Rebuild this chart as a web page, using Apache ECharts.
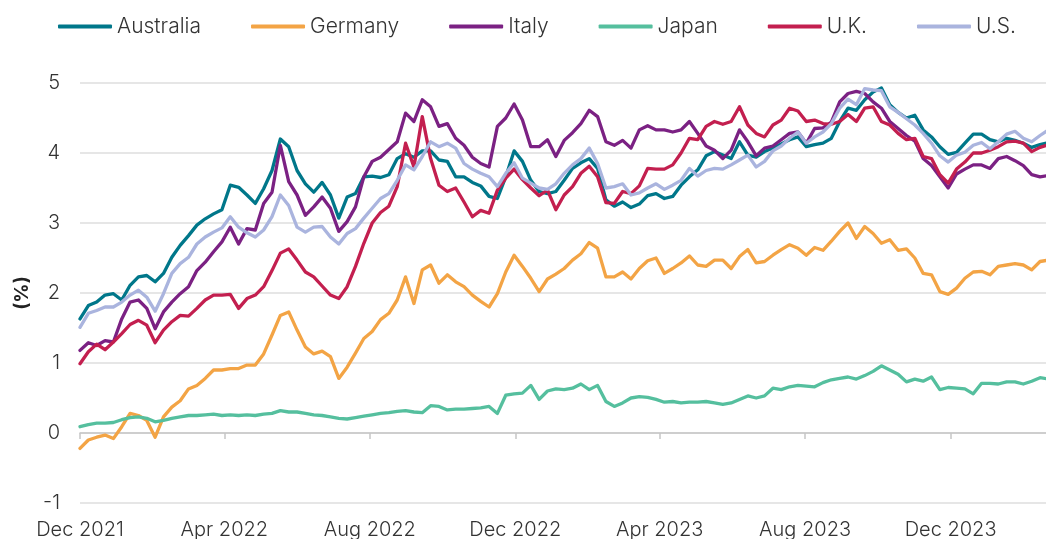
<!DOCTYPE html>
<html>
<head>
<meta charset="utf-8">
<script src="https://cdn.jsdelivr.net/npm/echarts@6/dist/echarts.min.js"></script>
<style>
  html, body { margin: 0; padding: 0; background: #fff; }
  #chart { width: 1046px; height: 539px; }
</style>
</head>
<body>
<div id="chart"></div>
<script>
// weekly readings, first week starting 1 Dec 2021
var startYear = 2021, startMonth = 11, startDay = 1;

var australia = [1.63,1.82,1.87,1.97,1.99,1.90,2.11,2.23,2.25,2.16,
  2.28,2.51,2.68,2.82,2.97,3.06,3.13,3.19,3.54,3.51,
  3.40,3.28,3.49,3.75,4.20,4.09,3.75,3.56,3.44,3.58,
  3.40,3.07,3.37,3.42,3.66,3.67,3.65,3.69,3.92,3.99,
  3.94,4.03,4.03,3.90,3.88,3.66,3.66,3.58,3.53,3.38,
  3.35,3.66,4.03,3.88,3.61,3.45,3.42,3.45,3.61,3.78,
  3.86,3.92,3.78,3.33,3.24,3.30,3.22,3.27,3.39,3.42,
  3.35,3.38,3.54,3.66,3.76,3.96,4.02,3.97,3.92,4.16,
  3.97,3.94,4.02,4.07,4.13,4.19,4.23,4.09,4.12,4.14,
  4.21,4.45,4.64,4.61,4.76,4.87,4.93,4.69,4.58,4.50,
  4.54,4.33,4.23,4.09,3.98,4.01,4.14,4.27,4.27,4.19,
  4.16,4.21,4.18,4.14,4.08,4.12,4.15];

var germany = [-0.22,-0.10,-0.06,-0.03,-0.08,0.09,0.28,0.25,0.18,-0.06,
  0.23,0.37,0.46,0.63,0.68,0.78,0.90,0.90,0.92,0.92,
  0.97,0.97,1.13,1.40,1.68,1.73,1.47,1.23,1.13,1.17,
  1.09,0.78,0.94,1.14,1.35,1.45,1.62,1.71,1.90,2.23,
  1.85,2.33,2.40,2.14,2.26,2.16,2.09,1.97,1.88,1.80,
  1.99,2.30,2.54,2.38,2.21,2.02,2.20,2.27,2.35,2.47,
  2.56,2.72,2.64,2.23,2.23,2.30,2.20,2.35,2.46,2.50,
  2.28,2.35,2.43,2.53,2.40,2.38,2.47,2.47,2.35,2.52,
  2.62,2.43,2.45,2.54,2.62,2.69,2.64,2.54,2.65,2.61,
  2.74,2.88,3.00,2.78,2.95,2.85,2.71,2.76,2.61,2.63,
  2.50,2.28,2.26,2.02,1.98,2.07,2.21,2.30,2.31,2.26,
  2.38,2.40,2.42,2.40,2.33,2.45,2.47];

var italy = [1.18,1.29,1.25,1.32,1.30,1.63,1.87,1.90,1.78,1.49,
  1.73,1.87,1.99,2.09,2.32,2.44,2.59,2.73,2.94,2.70,
  2.92,2.90,3.28,3.44,4.11,3.59,3.40,3.11,3.23,3.37,
  3.21,2.88,3.02,3.23,3.66,3.88,3.94,4.05,4.16,4.57,
  4.45,4.76,4.66,4.38,4.42,4.21,4.11,3.94,3.85,3.80,
  4.38,4.50,4.70,4.47,4.09,4.09,4.19,3.95,4.18,4.29,
  4.42,4.61,4.52,4.16,4.11,4.18,4.07,4.33,4.39,4.33,
  4.33,4.30,4.33,4.45,4.28,4.10,4.04,3.92,4.04,4.33,
  4.16,3.96,4.07,4.10,4.19,4.28,4.30,4.14,4.35,4.36,
  4.44,4.73,4.85,4.88,4.85,4.73,4.64,4.45,4.35,4.25,
  4.17,3.92,3.82,3.66,3.50,3.70,3.77,3.83,3.83,3.78,
  3.92,3.95,3.89,3.82,3.69,3.66,3.68];

var japan = [0.09,0.12,0.14,0.14,0.15,0.19,0.22,0.23,0.21,0.16,
  0.18,0.21,0.23,0.25,0.25,0.26,0.27,0.25,0.26,0.25,
  0.26,0.25,0.27,0.28,0.32,0.30,0.30,0.28,0.26,0.25,
  0.23,0.21,0.20,0.22,0.24,0.26,0.28,0.29,0.31,0.32,
  0.30,0.29,0.39,0.38,0.33,0.34,0.34,0.35,0.36,0.38,
  0.28,0.54,0.56,0.57,0.68,0.48,0.60,0.63,0.62,0.64,
  0.70,0.62,0.68,0.45,0.38,0.43,0.50,0.52,0.51,0.48,
  0.44,0.45,0.43,0.44,0.44,0.45,0.43,0.41,0.43,0.48,
  0.53,0.50,0.53,0.64,0.62,0.66,0.68,0.67,0.66,0.72,
  0.76,0.78,0.80,0.77,0.82,0.88,0.96,0.90,0.84,0.73,
  0.77,0.74,0.80,0.62,0.65,0.64,0.63,0.56,0.71,0.71,
  0.70,0.73,0.73,0.70,0.74,0.79,0.77];

var uk = [0.99,1.16,1.27,1.19,1.30,1.42,1.55,1.61,1.54,1.29,
  1.47,1.59,1.68,1.67,1.78,1.90,1.97,1.97,1.98,1.78,
  1.92,1.97,2.09,2.32,2.57,2.63,2.47,2.30,2.23,2.10,
  1.97,1.92,2.09,2.38,2.71,3.00,3.15,3.24,3.52,4.14,
  3.80,4.52,3.92,3.54,3.45,3.50,3.30,3.09,3.18,3.14,
  3.47,3.64,3.77,3.62,3.50,3.39,3.47,3.19,3.40,3.52,
  3.71,3.81,3.66,3.29,3.28,3.45,3.42,3.53,3.78,3.77,
  3.77,3.83,4.00,4.21,4.19,4.38,4.45,4.41,4.45,4.66,
  4.40,4.28,4.23,4.40,4.47,4.64,4.60,4.45,4.47,4.42,
  4.41,4.45,4.55,4.45,4.64,4.66,4.45,4.40,4.28,4.19,
  4.21,3.95,3.92,3.69,3.57,3.77,3.87,4.00,4.00,4.04,
  4.09,4.16,4.17,4.14,4.02,4.08,4.12];

var us = [1.51,1.71,1.75,1.80,1.80,1.87,1.97,2.04,1.94,1.74,
  1.99,2.28,2.42,2.51,2.70,2.80,2.87,2.93,3.09,2.94,
  2.86,2.80,2.90,3.09,3.40,3.25,2.94,2.87,2.94,2.95,
  2.80,2.70,2.85,2.92,3.07,3.21,3.35,3.42,3.61,3.83,
  3.76,3.95,4.16,4.09,4.14,4.07,3.85,3.77,3.71,3.66,
  3.52,3.71,3.86,3.64,3.57,3.50,3.48,3.56,3.71,3.83,
  3.92,4.07,3.85,3.50,3.52,3.56,3.40,3.43,3.50,3.56,
  3.48,3.54,3.61,3.78,3.67,3.75,3.78,3.77,3.83,3.90,
  3.97,3.80,3.88,4.03,4.10,4.21,4.30,4.14,4.23,4.30,
  4.42,4.64,4.77,4.69,4.92,4.90,4.89,4.66,4.58,4.49,
  4.40,4.28,4.14,3.96,3.87,3.97,4.01,4.11,4.15,4.06,
  4.16,4.27,4.31,4.21,4.16,4.25,4.33];

var seriesNames = ['Australia', 'Germany', 'Italy', 'Japan', 'U.K.', 'U.S.'];
var seriesColors = ['#00778a', '#f3a445', '#7b2183', '#55bf9e', '#c31f4f', '#aab4de'];
var tickDates = [[2021, 11], [2022, 3], [2022, 7], [2022, 11], [2023, 3], [2023, 7], [2023, 11]];
var monthNames = ['Jan','Feb','Mar','Apr','May','Jun','Jul','Aug','Sep','Oct','Nov','Dec'];

var dates = [];
for (var i = 0; i < australia.length; i++) {
  dates.push(new Date(startYear, startMonth, startDay + 7 * i).getTime());
}
function pair(vals){
  var out = [];
  for (var k = 0; k < vals.length; k++) out.push([dates[k], vals[k]]);
  return out;
}
var ticks = tickDates.map(function(t){ return new Date(t[0], t[1], 1).getTime(); });
var xMin = new Date(startYear, startMonth, startDay).getTime();
var xMax = new Date(startYear, startMonth, startDay + 810).getTime();

var FONT = 'Inter';
var allVals = [australia, germany, italy, japan, uk, us];

var chart = echarts.init(document.getElementById('chart'));
var option = {
  animation: false,
  textStyle: { fontFamily: FONT },
  legend: {
    left: 53, top: 11,
    itemWidth: 54, itemHeight: 4, itemGap: 50,
    icon: 'roundRect',
    textStyle: { fontSize: 21, fontWeight: 300, color: '#333', fontFamily: FONT },
    data: seriesNames
  },
  grid: { left: 80, right: 0, top: 83, bottom: 36, outerBoundsMode: 'none', containLabel: false },
  xAxis: {
    type: 'value', min: xMin, max: xMax,
    // axis line + ticks sit on the zero line; labels stay under the grid bottom
    axisLine: { show: true, onZero: true, lineStyle: { color: '#c6c6c6', width: 1.5 } },
    axisTick: { show: true, customValues: ticks, length: 6, lineStyle: { color: '#c6c6c6', width: 1.5 } },
    splitLine: { show: false },
    axisLabel: {
      customValues: ticks, margin: 17, fontSize: 20, fontWeight: 300, color: '#333', fontFamily: FONT,
      formatter: function(v){ var d = new Date(v); return monthNames[d.getMonth()] + ' ' + d.getFullYear(); }
    }
  },
  yAxis: {
    type: 'value', min: -1, max: 5, interval: 1,
    name: '(%)', nameLocation: 'middle', nameGap: 46, nameRotate: 90,
    nameTextStyle: { fontSize: 19, fontWeight: 'bold', color: '#222', fontFamily: FONT },
    axisLine: { show: false }, axisTick: { show: false },
    axisLabel: { fontSize: 20, fontWeight: 300, color: '#333', margin: 20, fontFamily: FONT },
    splitLine: { lineStyle: { color: '#dedede', width: 1.5 } }
  },
  series: seriesNames.map(function(n, idx){
    return {
      name: n, type: 'line',
      data: pair(allVals[idx]),
      showSymbol: false, symbol: 'none',
      itemStyle: { color: seriesColors[idx] },
      lineStyle: { color: seriesColors[idx], width: 3.3, cap: 'round', join: 'round' }
    };
  })
};
chart.setOption(option);
</script>
</body>
</html>
